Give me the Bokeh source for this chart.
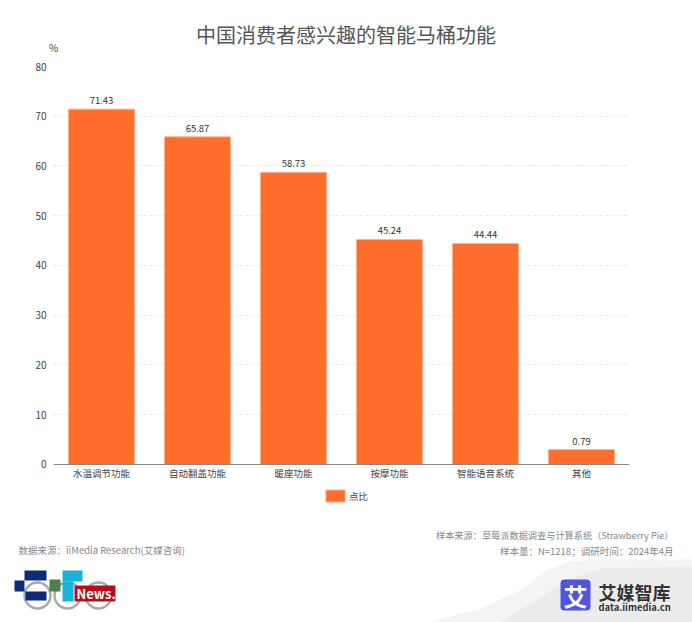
from bokeh.core.properties import value
from bokeh.embed import file_html
from bokeh.layouts import column
from bokeh.models import ColumnDataSource, FixedTicker, Legend, LegendItem
from bokeh.plotting import figure
from bokeh.resources import INLINE

# chart data
categories = ["水温调节功能", "自动翻盖功能", "暖座功能", "按摩功能", "智能语音系统", "其他"]
shares = [71.43, 65.87, 58.73, 45.24, 44.44, 0.79]
y_ticks = [0, 10, 20, 30, 40, 50, 60, 70, 80]
series_name = "点比"
title_text = "中国消费者感兴趣的智能马桶功能"

FONT = "Noto Sans CJK SC"
ORANGE = "#ff6e2c"
MIN_BAR = 3  # the source chart gives very small bars a minimum height


def strip(height, y_top):
    # a blank figure whose data units are page pixels, for the texts around the chart
    f = figure(width=692, height=height, x_range=(0, 692), y_range=(y_top + height, y_top),
               x_axis_type=None, y_axis_type=None, output_backend="svg", toolbar_location=None,
               tools="", min_border=0)
    f.grid.visible = False
    f.outline_line_color = None
    return f


def note(f, x, y, s, size="10px", color="#888888", align="left", style="normal"):
    f.text(x=[x], y=[y], text=[s], text_font=value(FONT), text_font_size=size, text_color=color,
           text_align=align, text_baseline="middle", text_font_style=style)


# title strip
head = strip(58, 0)
note(head, 345.5, 34, title_text, size="20px", color="#555555", align="center")
note(head, 53, 47, "%", color="#444444", align="center")

# bar chart, the frame runs on below zero to hold the category labels and the legend
source = ColumnDataSource({
    "cat": categories,
    "share": [max(v, MIN_BAR) for v in shares],
    "text": ["%.2f" % v for v in shares],
})
p = figure(x_range=categories, y_range=(-9.25, y_ticks[-1]), width=692, height=452, output_backend="svg",
           toolbar_location=None, tools="", min_border_left=53, min_border_right=63,
           min_border_top=8, min_border_bottom=0)
p.outline_line_color = None
bars = p.vbar(x="cat", top="share", width=0.69, source=source, fill_color=ORANGE,
              line_color="#ffb48c", line_width=1, border_radius=1)
p.text(x="cat", y="share", text="text", source=source, text_align="center", text_baseline="bottom",
       y_offset=-5, text_font=value(FONT), text_font_size="9.5px", text_color="#333333")

p.yaxis.ticker = FixedTicker(ticks=y_ticks)
p.yaxis.axis_line_color = None
p.yaxis.major_tick_line_color = None
p.yaxis.minor_tick_line_color = None
p.yaxis.major_label_standoff = 1
p.yaxis.major_label_text_font = FONT
p.yaxis.major_label_text_font_size = "10px"
p.yaxis.major_label_text_color = "#444444"
p.xaxis.fixed_location = 0
p.xaxis.axis_line_color = "#888888"
p.xaxis.major_tick_line_color = None
p.xaxis.minor_tick_line_color = None
p.xaxis.major_label_standoff = -4
p.xaxis.major_label_text_font = FONT
p.xaxis.major_label_text_font_size = "9.5px"
p.xaxis.major_label_text_color = "#444444"
p.xgrid.grid_line_color = None
p.ygrid.grid_line_color = "#e6e6e6"
p.ygrid.grid_line_dash = [3, 3]

legend = Legend(items=[LegendItem(label=series_name, renderers=[bars])], location=(270, 7),
                border_line_color=None, background_fill_alpha=0, glyph_width=24, glyph_height=15,
                label_text_font=FONT, label_text_font_size="9.5px", label_text_color="#444444",
                label_standoff=2, padding=0, margin=0)
p.add_layout(legend, "center")

# footer strip
foot = strip(112, 510)
note(foot, 18, 549, "数据来源：iiMedia Research(艾媒咨询)", size="9.5px")
note(foot, 673, 534, "样本来源：草莓派数据调查与计算系统（Strawberry Pie）", size="9.2px", align="right")
note(foot, 673, 550, "样本量：N=1218；调研时间：2024年4月", size="9.5px", align="right")

# grey swoosh behind the brand
foot.patch([428, 480, 520, 545, 570, 600, 692, 692], [622, 608, 590, 570, 561, 559, 559, 622],
           fill_color="#f4f4f4", line_color=None)
foot.patch([500, 535, 565, 600, 692, 692], [622, 600, 580, 568, 566, 622],
           fill_color="#ececec", line_color=None)

# iiMedia brand
foot.quad(left=[560], right=[590], top=[579], bottom=[610], fill_color="#4f55e0", line_color=None,
          border_radius=4)
note(foot, 575, 595, "艾", size="24px", color="#ffffff", align="center", style="bold")
note(foot, 598, 591, "艾媒智库", size="18px", color="#333333", style="bold")
note(foot, 598, 606, "data.iimedia.cn", size="9.4px", color="#333333", style="bold")

# 51CTO news logo
foot.circle(x=[37, 67, 98], y=[595, 595, 595], radius=13, fill_alpha=0, line_color="#aaaaaa", line_width=2.5)
foot.quad(left=[24, 14, 25], right=[46, 24, 46], top=[570, 580, 591], bottom=[580, 591, 600],
          fill_color="#0c2a7a", line_color=None)
foot.quad(left=[49], right=[60], top=[579], bottom=[591], fill_color="#4d7f4d", line_color=None)
foot.quad(left=[62, 62], right=[82, 73], top=[570, 581], bottom=[581, 601], fill_color="#16b4da", line_color=None)
foot.quad(left=[74], right=[115], top=[585], bottom=[601], fill_color="#b80d1c", line_color=None, border_radius=1)
note(foot, 76, 593, "News.", size="13px", color="#ffffff", style="bold")

# separate wrappers keep the frames of the three figures from being lined up
page = column(column(head), column(p), column(foot), spacing=0)
open("out.html", "w").write(file_html(page, INLINE))
